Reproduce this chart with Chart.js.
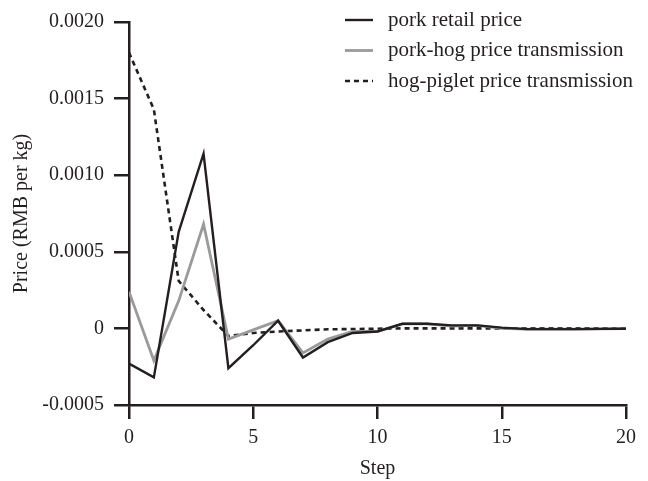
<!DOCTYPE html>
<html>
<head>
<meta charset="utf-8">
<script src="https://cdn.jsdelivr.net/npm/chart.js@4/dist/chart.umd.min.js"></script>
<style>
    html, body { margin: 0; padding: 0; background: #ffffff; }
    #wrap { width: 648px; height: 481px; }
</style>
</head>
<body>
<div id="wrap"><canvas id="irfChart" width="648" height="481"></canvas></div>
<script>
// Impulse responses
const steps = [0, 1, 2, 3, 4, 5, 6, 7, 8, 9, 10, 11, 12, 13, 14, 15, 16, 17, 18, 19, 20];
const porkRetail = [-0.00023, -0.00032, 0.00063, 0.00114, -0.00026, -0.00011, 0.00005, -0.00019, -0.00009, -0.00003, -0.00002,
    0.00003, 0.00003, 0.00002, 0.00002, 0.000005, -0.000005, -0.000005, -0.000005, -0.000003, -0.000002];
const porkHog = [0.00024, -0.00021, 0.00018, 0.00068, -0.00007, -0.00001, 0.00005, -0.00016, -0.00007, -0.00002, -0.00002,
    0.00003, 0.00003, 0.000015, 0.00002, 0, -0.000005, -0.000005, -0.000005, -0.000003, -0.000002];
const hogPiglet = [0.0018, 0.00143, 0.00031, 0.00012, -0.00005, -0.00003, -0.00002, -0.000013, -0.000006, -0.000004, -0.000002,
    0, 0, 0, 0, 0, 0, 0, 0, 0, 0];
const xTicks = [0, 5, 10, 15, 20];
const yTicks = [-0.0005, 0, 0.0005, 0.0010, 0.0015, 0.0020];
const seriesNames = ['pork retail price', 'pork-hog price transmission', 'hog-piglet price transmission'];

const ink = '#231f20';
const serif = "'Liberation Serif', 'Times New Roman', serif";

function points(values) {
    return steps.map((s, i) => ({ x: s, y: values[i] }));
}

// legend drawn in the top right corner, one row per dataset
const cornerLegend = {
    id: 'cornerLegend',
    afterDraw(chart) {
        const c = chart.ctx;
        c.save();
        c.font = '21px ' + serif;
        c.textBaseline = 'middle';
        chart.data.datasets.forEach((ds, i) => {
            const y = 20 + i * 30.5;
            c.beginPath();
            c.strokeStyle = ds.borderColor;
            c.lineWidth = ds.borderWidth;
            c.setLineDash(ds.borderDash || []);
            c.moveTo(345, y);
            c.lineTo(373, y);
            c.stroke();
            c.setLineDash([]);
            c.fillStyle = ink;
            c.fillText(ds.label, 388, y);
        });
        c.restore();
    }
};

const ctx = document.getElementById('irfChart').getContext('2d');
const irfChart = new Chart(ctx, {
    type: 'line',
    data: {
        datasets: [{
            label: seriesNames[0],
            data: points(porkRetail),
            borderColor: ink,
            borderWidth: 2.4,
            pointRadius: 0,
            tension: 0
        }, {
            label: seriesNames[1],
            data: points(porkHog),
            borderColor: '#9a9a9a',
            borderWidth: 2.8,
            pointRadius: 0,
            tension: 0
        }, {
            label: seriesNames[2],
            data: points(hogPiglet),
            borderColor: ink,
            borderWidth: 2.6,
            borderDash: [5, 4],
            pointRadius: 0,
            tension: 0
        }]
    },
    options: {
        responsive: false,
        animation: false,
        devicePixelRatio: 1,
        layout: {
            padding: { top: 18, right: 22, left: 0, bottom: 0 }
        },
        plugins: {
            legend: { display: false },
            tooltip: { enabled: false }
        },
        scales: {
            x: {
                type: 'linear',
                min: 0,
                max: 20,
                afterFit: scale => { scale.height = 76; },
                afterBuildTicks: scale => { scale.ticks = xTicks.map(v => ({ value: v })); },
                border: { color: ink, width: 2.5 },
                grid: {
                    drawOnChartArea: false,
                    drawTicks: true,
                    tickLength: 14,
                    color: ink,
                    lineWidth: 2.5
                },
                ticks: {
                    color: ink,
                    padding: 7,
                    font: { family: serif, size: 20 }
                },
                title: {
                    display: true,
                    text: 'Step',
                    color: ink,
                    padding: { top: 0, bottom: 0 },
                    font: { family: serif, size: 20 }
                }
            },
            y: {
                min: -0.0005,
                max: 0.002,
                afterFit: scale => { scale.width = 129; },
                afterBuildTicks: scale => { scale.ticks = yTicks.map(v => ({ value: v })); },
                border: { color: ink, width: 2.5 },
                grid: {
                    drawOnChartArea: false,
                    drawTicks: true,
                    tickLength: 15,
                    color: ink,
                    lineWidth: 2.5
                },
                ticks: {
                    color: ink,
                    padding: 10,
                    font: { family: serif, size: 20 },
                    callback: v => Math.abs(v) < 1e-12 ? '0' : v.toFixed(4)
                },
                title: {
                    display: true,
                    text: 'Price (RMB per kg)',
                    color: ink,
                    padding: { top: 10, bottom: 0 },
                    font: { family: serif, size: 20 }
                }
            }
        }
    },
    plugins: [cornerLegend]
});
</script>
</body>
</html>
